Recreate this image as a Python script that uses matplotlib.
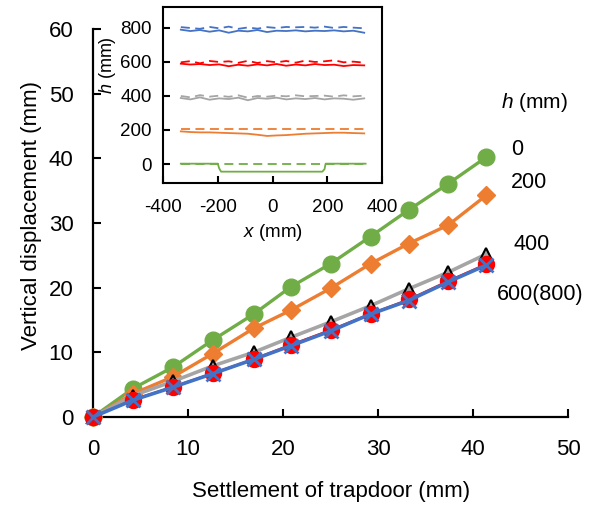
import matplotlib
matplotlib.use("Agg")
import matplotlib.pyplot as plt

plt.rcParams['font.family'] = ['Liberation Sans', 'DejaVu Sans']
plt.rcParams['mathtext.fontset'] = 'custom'
plt.rcParams['mathtext.it'] = 'Liberation Sans:italic'
plt.rcParams['mathtext.rm'] = 'Liberation Sans'
plt.rcParams['axes.unicode_minus'] = False

# ---------------- main chart data ----------------
settlement = [0, 4.2, 8.4, 12.6, 16.9, 20.8, 25.0, 29.2, 33.2, 37.4, 41.4]
disp_h0 = [0, 4.4, 7.7, 11.9, 15.9, 20.1, 23.7, 27.9, 32.0, 36.1, 40.2]
disp_h200 = [0, 3.6, 6.2, 9.8, 13.7, 16.5, 19.9, 23.7, 26.8, 29.7, 34.3]
disp_h400 = [0, 3.3, 5.5, 7.9, 10.0, 12.3, 14.7, 17.2, 19.8, 22.4, 25.2]
disp_h600 = [0, 2.7, 4.7, 6.8, 9.0, 11.2, 13.5, 16.0, 18.2, 21.1, 23.7]
disp_h800 = [0, 2.6, 4.6, 6.7, 8.9, 11.0, 13.3, 15.9, 18.0, 20.9, 23.5]

series_labels = ['0', '200', '400', '600(800)']
legend_title = '$h$ (mm)'

# ---------------- inset data ----------------
ix = [-335, -300, -265, -230, -195, -160, -125, -90, -55, -20,
      15, 50, 85, 120, 155, 190, 225, 260, 295, 335]
h800_after = [790, 782, 788, 778, 786, 772, 784, 780, 788, 776,
              784, 782, 786, 780, 784, 782, 786, 780, 784, 772]
h800_before = [805, 800, 795, 806, 798, 808, 795, 803, 796, 805,
               800, 806, 804, 806, 802, 808, 800, 806, 802, 798]
h600_after = [590, 585, 588, 582, 586, 575, 584, 578, 586, 580,
              588, 578, 585, 580, 588, 582, 584, 576, 582, 580]
h600_before = [598, 605, 592, 606, 600, 604, 595, 607, 594, 605,
               598, 606, 596, 608, 600, 604, 610, 598, 602, 596]
h400_after = [388, 380, 392, 378, 386, 382, 390, 375, 388, 384,
              390, 380, 386, 382, 388, 380, 386, 384, 378, 386]
h400_before = [400, 392, 405, 396, 402, 395, 404, 390, 400, 396,
               402, 398, 404, 398, 400, 402, 396, 404, 398, 402]
h200_after = [192, 188, 186, 186, 184, 182, 180, 178, 172, 165,
              168, 170, 174, 178, 180, 182, 184, 184, 182, 180]
h200_before_x = [-335, 340]
h200_before = [203, 203]
h0_after_x = [-335, -200, -195, -188, 0, 182, 190, 194, 340]
h0_after = [2, 2, -25, -45, -45, -45, -30, 2, 2]
h0_before_x = [-335, 340]
h0_before = [0, 0]

green = '#70AD47'
orange = '#ED7D31'
gray = '#A5A5A5'
red = '#FF0000'
blue = '#4472C4'

fig = plt.figure(figsize=(6.0, 5.05), dpi=100)
ax = fig.add_axes([0.155, 0.1743, 0.792, 0.7683])

ax.plot(settlement, disp_h0, color=green, lw=2.4, marker='o', ms=12, zorder=3)
ax.plot(settlement, disp_h200, color=orange, lw=2.4, marker='D', ms=9.5, zorder=3)
ax.plot(settlement, disp_h400, color=gray, lw=2.6, marker='^', ms=8.5,
        mfc=gray, mec='black', mew=1.5, zorder=3)
ax.plot(settlement, disp_h600, color=red, lw=1.2, marker='o', ms=11.5, zorder=4)
ax.plot(settlement, disp_h800, color=blue, lw=2.6, marker='x', ms=10, mew=2.0, zorder=5)

ax.set_xlim(0, 50)
ax.set_ylim(0, 60)
ax.set_xticks([0, 10, 20, 30, 40, 50])
ax.set_yticks([0, 10, 20, 30, 40, 50, 60])
for s in ['top', 'right']:
    ax.spines[s].set_visible(False)
for s in ['left', 'bottom']:
    ax.spines[s].set_linewidth(1.6)
    ax.spines[s].set_color('black')
ax.tick_params(direction='in', length=6, width=1.5, labelsize=16)
ax.tick_params(axis='x', pad=16)
ax.tick_params(axis='y', pad=14)
ax.set_xlabel('Settlement of trapdoor (mm)', fontsize=16, labelpad=15)
ax.set_ylabel('Vertical displacement (mm)', fontsize=16)
ax.yaxis.set_label_coords(-0.107, 0.52)
for line in ax.lines:
    line.set_clip_on(False)

# series annotations
ax.text(46.4, 48.6, legend_title, fontsize=15, ha='center', va='center')
ax.text(44.6, 41.3, series_labels[0], fontsize=15.5, ha='center', va='center')
ax.text(45.9, 36.2, series_labels[1], fontsize=15.5, ha='center', va='center')
ax.text(46.1, 26.7, series_labels[2], fontsize=15.5, ha='center', va='center')
ax.text(47.1, 19.0, series_labels[3], fontsize=15.5, ha='center', va='center')

# ---------------- inset ----------------
ins = fig.add_axes([0.2717, 0.6382, 0.365, 0.3485])
dash = (5, 3)
ins.plot(ix, h800_after, color=blue, lw=1.3)
ins.plot(ix, h800_before, color=blue, lw=1.3, ls='--', dashes=dash)
ins.plot(ix, h600_after, color=red, lw=1.3)
ins.plot(ix, h600_before, color=red, lw=1.3, ls='--', dashes=dash)
ins.plot(ix, h400_after, color=gray, lw=1.3)
ins.plot(ix, h400_before, color=gray, lw=1.3, ls='--', dashes=dash)
ins.plot(ix, h200_after, color=orange, lw=1.3)
ins.plot(h200_before_x, h200_before, color=orange, lw=1.3, ls='--', dashes=dash)
ins.plot(h0_after_x, h0_after, color=green, lw=1.3)
ins.plot(h0_before_x, h0_before, color=green, lw=1.3, ls='--', dashes=dash)
ins.set_xlim(-400, 400)
ins.set_ylim(-110, 925)
ins.set_xticks([-400, -200, 0, 200, 400])
ins.set_yticks([0, 200, 400, 600, 800])
for s in ins.spines.values():
    s.set_linewidth(1.5)
    s.set_color('black')
ins.tick_params(direction='in', length=5, width=1.5, labelsize=13.5)
ins.tick_params(axis='x', pad=12)
ins.tick_params(axis='y', pad=8)
ins.set_xlabel('$x$ (mm)', fontsize=13.5)
ins.xaxis.set_label_coords(0.5, -0.225)
ins.set_ylabel('$h$ (mm)', fontsize=13)
ins.yaxis.set_label_coords(-0.205, 0.67)

fig.savefig('out.png', dpi=100)
